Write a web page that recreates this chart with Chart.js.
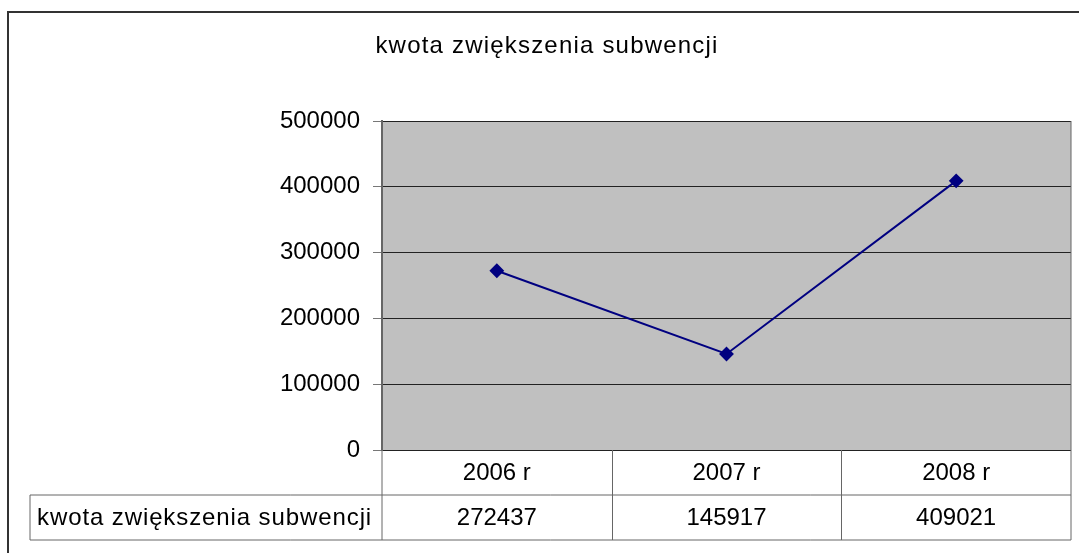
<!DOCTYPE html>
<html>
<head>
<meta charset="utf-8">
<title>kwota zwiększenia subwencji</title>
<script src="https://cdn.jsdelivr.net/npm/chart.js@4/dist/chart.umd.min.js"></script>
<style>
    html, body { margin: 0; padding: 0; background: #fff; }
    canvas { display: block; }
</style>
</head>
<body>
<canvas id="dataChart" width="1079" height="553"></canvas>
<script>
const chartTitle = 'kwota zwiększenia subwencji';
const seriesName = 'kwota zwiększenia subwencji';
const categories = ['2006 r', '2007 r', '2008 r'];
const values = [272437, 145917, 409021];
const yTicks = [0, 100000, 200000, 300000, 400000, 500000];

const FONT = '"Liberation Sans", Arial, sans-serif';

// tło obszaru wykresu, ramka, tytuł i tabela danych pod osią
const excelLook = {
    id: 'excelLook',
    beforeDraw(chart) {
        const { ctx, chartArea: a } = chart;
        ctx.save();
        ctx.fillStyle = '#c0c0c0';
        ctx.fillRect(a.left, a.top, a.right - a.left, a.bottom - a.top);
        ctx.restore();
    },
    afterDraw(chart) {
        const { ctx, chartArea: a } = chart;
        const x = chart.scales.x;
        const rowH = 45;
        const r1 = a.bottom, r2 = a.bottom + rowH, r3 = a.bottom + 2 * rowH;
        const labelLeft = 30;

        ctx.save();
        // ramka całego wykresu
        ctx.strokeStyle = '#333';
        ctx.lineWidth = 2;
        ctx.beginPath();
        ctx.moveTo(8, chart.height);
        ctx.lineTo(8, 12);
        ctx.lineTo(chart.width, 12);
        ctx.stroke();

        // tytuł
        ctx.fillStyle = '#000';
        ctx.font = '24px ' + FONT;
        ctx.textAlign = 'center';
        ctx.textBaseline = 'middle';
        ctx.letterSpacing = '1.2px';
        ctx.fillText(chartTitle, 547, 46);
        ctx.letterSpacing = '0px';

        // tabela danych
        ctx.strokeStyle = '#666';
        ctx.lineWidth = 1;
        ctx.beginPath();
        ctx.moveTo(a.left, a.top); ctx.lineTo(a.left, r3);
        ctx.moveTo(a.right, a.top); ctx.lineTo(a.right, r3);
        ctx.moveTo(labelLeft, r2); ctx.lineTo(a.right, r2);
        ctx.moveTo(labelLeft, r3); ctx.lineTo(a.right, r3);
        ctx.moveTo(labelLeft, r2); ctx.lineTo(labelLeft, r3);
        const colW = (a.right - a.left) / categories.length;
        for (let i = 1; i < categories.length; i++) {
            const cx = Math.round(a.left + i * colW) + 0.5;
            ctx.moveTo(cx, r1); ctx.lineTo(cx, r3);
        }
        ctx.stroke();

        ctx.fillStyle = '#000';
        categories.forEach((c, i) => {
            const cx = x.getPixelForValue(i);
            ctx.fillText(c, cx, (r1 + r2) / 2 + 1);
            ctx.fillText(String(values[i]), cx, (r2 + r3) / 2 + 1);
        });
        ctx.textAlign = 'left';
        ctx.letterSpacing = '0.9px';
        ctx.fillText(seriesName, 37, (r2 + r3) / 2 + 1);
        ctx.restore();
    }
};

const ctx = document.getElementById('dataChart').getContext('2d');
new Chart(ctx, {
    type: 'line',
    data: {
        labels: categories,
        datasets: [{
            label: seriesName,
            data: values,
            borderColor: '#000080',
            backgroundColor: '#000080',
            borderWidth: 2,
            tension: 0,
            pointStyle: 'rectRot',
            pointRadius: 6,
            pointHoverRadius: 6
        }]
    },
    options: {
        responsive: false,
        animation: false,
        devicePixelRatio: 1,
        layout: { padding: { top: 121, right: 7, bottom: 103, left: 0 } },
        plugins: {
            legend: { display: false },
            title: { display: false },
            tooltip: { enabled: false }
        },
        scales: {
            x: {
                display: false,
                offset: true
            },
            y: {
                min: 0,
                max: 500000,
                afterFit: scale => { scale.width = 382; },
                afterBuildTicks: scale => { scale.ticks = yTicks.map(v => ({ value: v })); },
                ticks: {
                    color: '#000',
                    padding: 13,
                    font: { family: FONT, size: 24 },
                    callback: v => String(v)
                },
                grid: {
                    color: '#222',
                    lineWidth: 1,
                    tickLength: 9,
                    tickColor: '#777'
                },
                border: { color: '#666', width: 2 }
            }
        }
    },
    plugins: [excelLook]
});
</script>
</body>
</html>
